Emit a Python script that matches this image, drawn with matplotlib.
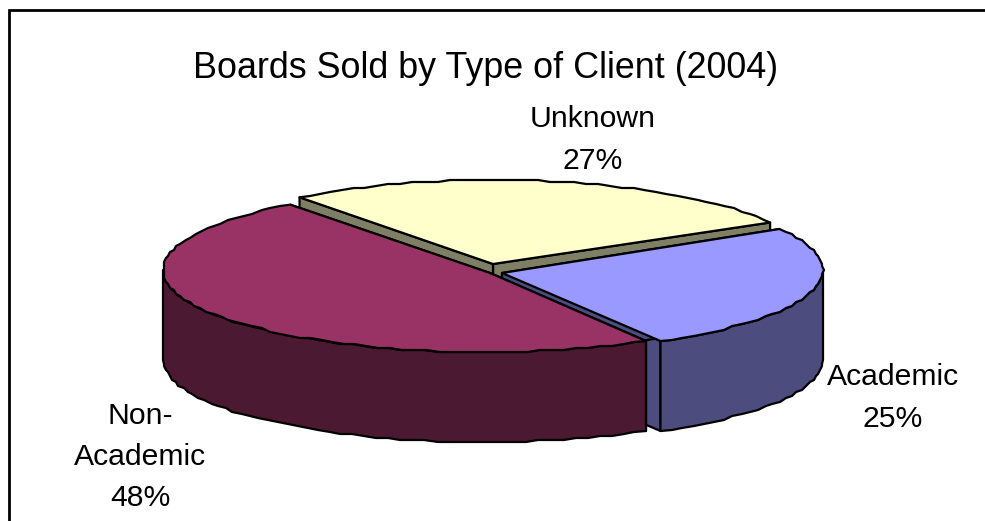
import matplotlib
matplotlib.use("Agg")
import matplotlib.pyplot as plt
import numpy as np
from matplotlib.patches import Polygon

plt.rcParams["font.family"] = ["Liberation Sans", "DejaVu Sans"]

# Chart data
TITLE = "Boards Sold by Type of Client (2004)"
CATEGORIES = ["Unknown", "Non-\nAcademic", "Academic"]
SHARES = [27, 48, 25]

TOP_COLORS = ["#FFFFCC", "#993366", "#9999FF"]
WALL_COLORS = ["#7F7F66", "#4C1933", "#4C4C7F"]

START_ANGLE = 30
DEPTH = 90

# ellipse centre x, centre y, radius x, radius y, apex x, apex y (pixels)
SLICE_GEOM = [
    (493, 265, 320, 85, 493, 264),
    (485, 270, 322, 82, 490, 273),
    (498, 270, 325, 82, 502, 273),
]
LABEL_POS = [(593, 140), (140, 457), (893, 398)]


def arc(geom, a0, a1):
    cx, cy, rx, ry = geom[:4]
    n = max(2, int(abs(a1 - a0) / 2.2))
    t = np.radians(np.linspace(a0, a1, n))
    x = cx + rx * np.cos(t)
    y = cy - ry * np.sin(t)
    # rough polygon look of the old spreadsheet renderer
    x[1:-1] = np.round(x[1:-1] / 2) * 2
    y[1:-1] = np.round(y[1:-1] / 2) * 2
    return np.column_stack([x, y])


def draw_poly(ax, pts, color, z):
    ax.add_patch(Polygon(pts, closed=True, facecolor=color, edgecolor="black",
                         linewidth=1.6, joinstyle="round", zorder=z))


def wall(ax, edge, color, z):
    low = edge[::-1] + np.array([0, DEPTH])
    draw_poly(ax, np.vstack([edge, low]), color, z)


def draw_slice(ax, i, a0, a1, z):
    geom = SLICE_GEOM[i]
    apex = np.array([geom[4:6]], dtype=float)
    rim = arc(geom, a0, a1)
    # cut faces first, then outer wall for the front part of the rim
    wall(ax, np.vstack([apex, rim[:1]]), WALL_COLORS[i], z)
    wall(ax, np.vstack([apex, rim[-1:]]), WALL_COLORS[i], z)
    lo, hi = max(a0, 180), min(a1, 360)
    if lo < hi:
        wall(ax, arc(geom, lo, hi), WALL_COLORS[i], z + 0.1)
    draw_poly(ax, np.vstack([apex, rim]), TOP_COLORS[i], z + 0.2)


def main():
    fig = plt.figure(figsize=(9.85, 5.21), dpi=100)
    ax = fig.add_axes([0, 0, 1, 1])
    ax.set_xlim(0, 985)
    ax.set_ylim(521, 0)
    ax.axis("off")

    # chart frame, only top and left edges are inside the crop
    ax.plot([9, 9, 985], [521, 9.5, 9.5], color="black", lw=2.0, zorder=1,
            solid_joinstyle="miter")

    angles = START_ANGLE + np.cumsum([0] + SHARES) * 3.6
    spans = [(angles[0], angles[1]), (angles[1], angles[2]), (angles[2], angles[3])]

    draw_slice(ax, 0, *spans[0], 2)
    draw_slice(ax, 2, *spans[2], 3)
    draw_slice(ax, 1, *spans[1], 4)

    ax.text(486, 69, TITLE, ha="center", va="center", fontsize=25.8)
    for name, share, (x, y) in zip(CATEGORIES, SHARES, LABEL_POS):
        ax.text(x, y, f"{name}\n{share}%", ha="center", va="center",
                fontsize=21.7, linespacing=1.6, zorder=6)

    fig.savefig("out.png", dpi=100)


if __name__ == "__main__":
    main()
